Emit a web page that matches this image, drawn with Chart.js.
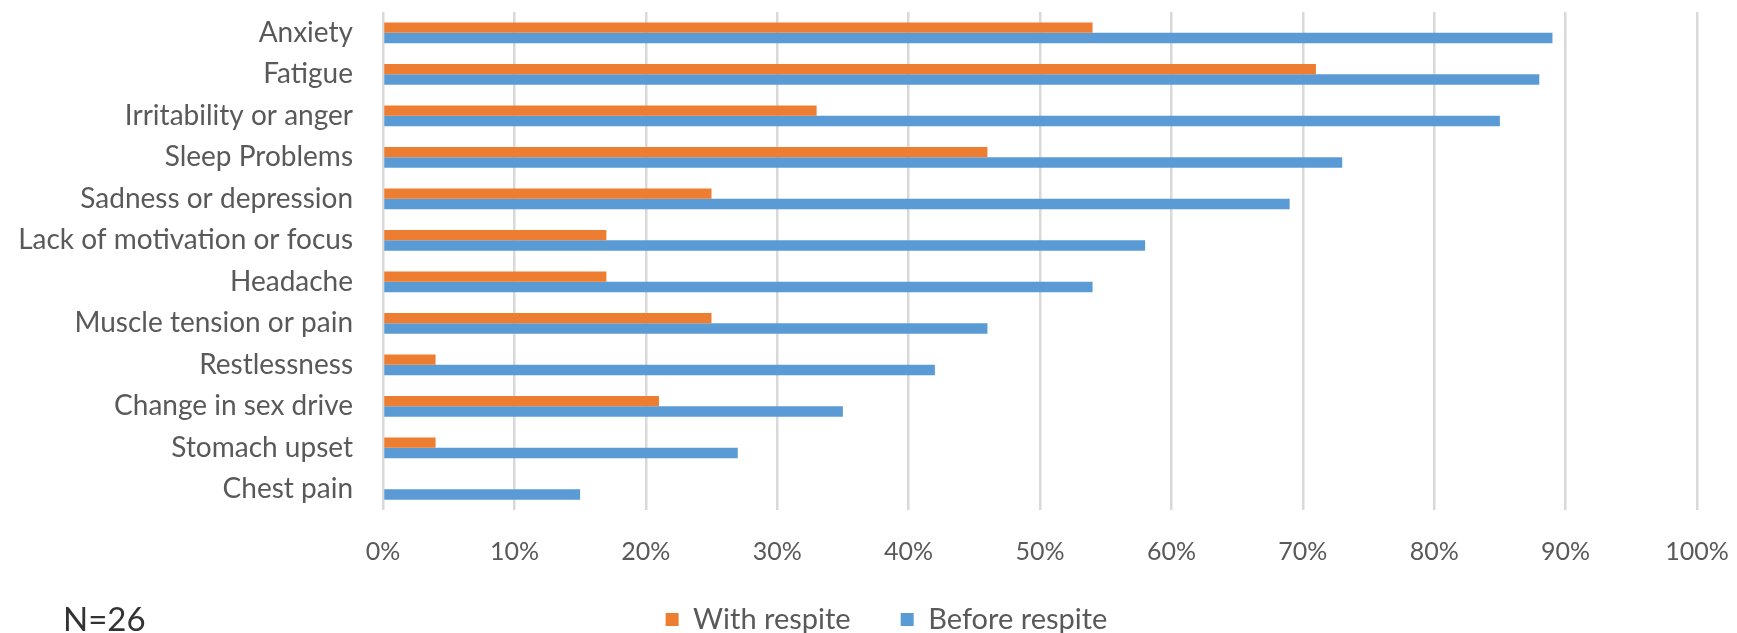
<!DOCTYPE html>
<html>
<head>
<meta charset="utf-8">
<script src="https://cdn.jsdelivr.net/npm/chart.js@4"></script>
<style>
  html, body { margin: 0; padding: 0; background: #ffffff; }
</style>
</head>
<body>
<canvas id="chart" width="1737" height="633"></canvas>
<script>
// Symptoms reported by carers, share of respondents (%)
const categories = [
  'Anxiety',
  'Fatigue',
  'Irritability or anger',
  'Sleep Problems',
  'Sadness or depression',
  'Lack of motivation or focus',
  'Headache',
  'Muscle tension or pain',
  'Restlessness',
  'Change in sex drive',
  'Stomach upset',
  'Chest pain'
];
const withRespite   = [54, 71, 33, 46, 25, 17, 17, 25, 4, 21, 4, 0];
const beforeRespite = [89, 88, 85, 73, 69, 58, 54, 46, 42, 35, 27, 15];
const tickLabels = ['0%', '10%', '20%', '30%', '40%', '50%', '60%', '70%', '80%', '90%', '100%'];
const sampleNote = 'N=26';

const textGrey = '#595959';
const gridGrey = '#d9d9d9';

// Places the legend under the middle of the page and writes the sample size note.
const pageExtras = {
  id: 'pageExtras',
  afterLayout(chart) {
    const legend = chart.legend;
    legend.left += 76;
    legend.top -= 15;
    legend.bottom -= 15;
  },
  afterDraw(chart) {
    const ctx = chart.ctx;
    ctx.save();
    ctx.font = '33px Lato, sans-serif';
    ctx.fillStyle = '#333333';
    ctx.textAlign = 'left';
    ctx.textBaseline = 'alphabetic';
    ctx.fillText(sampleNote, 63, 631);
    ctx.restore();
  }
};

new Chart(document.getElementById('chart'), {
  type: 'bar',
  data: {
    labels: categories,
    datasets: [
      { label: 'With respite',   data: withRespite,   backgroundColor: '#ED7D31' },
      { label: 'Before respite', data: beforeRespite, backgroundColor: '#5B9BD5' }
    ]
  },
  plugins: [pageExtras],
  options: {
    indexAxis: 'y',
    responsive: false,
    animation: false,
    datasets: { bar: { categoryPercentage: 0.5, barPercentage: 1.0 } },
    layout: { padding: { top: 12, right: 40, left: 0, bottom: -26 } },
    plugins: {
      legend: {
        position: 'bottom',
        labels: {
          boxWidth: 13,
          boxHeight: 13,
          padding: 50,
          color: textGrey,
          font: { family: 'Lato', size: 29 }
        }
      },
      tooltip: { enabled: false }
    },
    scales: {
      x: {
        min: 0,
        max: 100,
        ticks: {
          stepSize: 10,
          color: textGrey,
          padding: 0,
          font: { family: 'Lato', size: 25 },
          callback: (value, index) => tickLabels[index]
        },
        grid: { color: gridGrey, lineWidth: 2.5, drawTicks: true, tickLength: 27, tickColor: 'rgba(0,0,0,0)' },
        border: { display: false },
        afterFit(scale) { scale.height = 60; }
      },
      y: {
        ticks: {
          color: textGrey,
          padding: 0,
          font: { family: 'Lato', size: 28, lineHeight: 0.8 }
        },
        grid: { display: false, drawTicks: true, tickLength: 30 },
        border: { display: false },
        afterFit(scale) { scale.width = 383; }
      }
    }
  }
});
</script>
</body>
</html>
